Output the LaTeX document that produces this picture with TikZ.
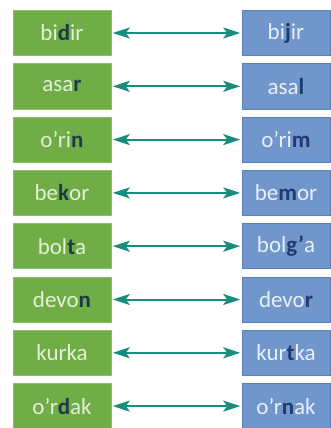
\documentclass[tikz,border=0pt]{standalone}
\usepackage{fontspec}
\setmainfont{Carlito}
\usetikzlibrary{arrows.meta}
\definecolor{boxgreen}{HTML}{70AD47}
\definecolor{boxblue}{HTML}{7096CC}
\definecolor{edgegreen}{HTML}{8DBF6C}
\definecolor{edgeblue}{HTML}{5B80B8}
\definecolor{txtgreen}{HTML}{E2F0D6}
\definecolor{txtblue}{HTML}{E8EFF8}
\definecolor{hlgreen}{HTML}{1E3A4A}
\definecolor{hlblue}{HTML}{1F3A70}
\definecolor{arrowteal}{HTML}{188C7E}
\newcommand{\hlg}[1]{\textbf{\color{hlgreen}#1}}
\newcommand{\hlb}[1]{\textbf{\color{hlblue}#1}}
\tikzset{
  leftbox/.style={rectangle, fill=boxgreen, draw=edgegreen, line width=0.6pt,
    minimum width=98pt, minimum height=45pt, inner sep=0pt,
    text=txtgreen, font=\fontsize{23}{26}\selectfont},
  rightbox/.style={rectangle, fill=boxblue, draw=edgeblue, line width=0.6pt,
    minimum width=88pt, minimum height=45pt, inner sep=0pt,
    text=txtblue, font=\fontsize{23}{26}\selectfont},
  link/.style={draw=arrowteal, line width=2pt,
    {Stealth[length=17pt,width=11pt,inset=4pt]}-{Stealth[length=17pt,width=11pt,inset=4pt]},
    shorten <=1.5pt, shorten >=1.5pt}
}
\begin{document}
\begin{tikzpicture}[x=1pt,y=-1pt]
\useasboundingbox (0,0) rectangle (330,428);
\fill[white] (0,0) rectangle (330,428);
\foreach \i/\lt/\rt in {
  1/{bi\hlg{d}ir}/{bi\hlb{j}ir},
  2/{asa\hlg{r}}/{asa\hlb{l}},
  3/{o’ri\hlg{n}}/{o’ri\hlb{m}},
  4/{be\hlg{k}or}/{be\hlb{m}or},
  5/{bol\hlg{t}a}/{bol\hlb{g’}a},
  6/{devo\hlg{n}}/{devo\hlb{r}},
  7/{kurka}/{kur\hlb{t}ka},
  8/{o’r\hlg{d}ak}/{o’r\hlb{n}ak}} {
  \pgfmathsetmacro{\yy}{33+53.3*(\i-1)}
  \node[leftbox] (l\i) at (62,\yy) {\lt};
  \node[rightbox] (r\i) at (286,\yy) {\rt};
  \draw[link] (l\i.east) -- (r\i.west);
}
\end{tikzpicture}
\end{document}
